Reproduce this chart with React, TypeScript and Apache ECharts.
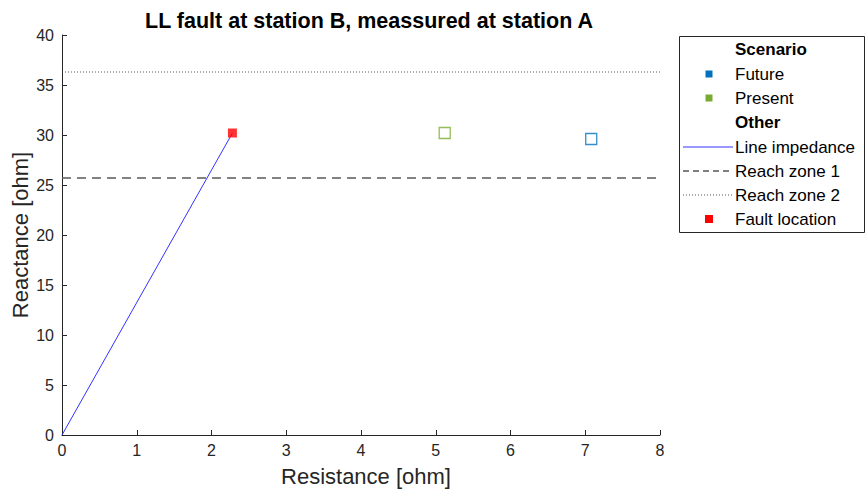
import React, { useEffect, useRef } from "react";
import * as echarts from "echarts";

// Impedance plane values (ohm)
const lineImpedance: [number, number][] = [
  [0, 0],
  [2.28, 30.2],
];
const faultLocation: [number, number][] = [[2.28, 30.2]];
const presentPoint: [number, number][] = [[5.12, 30.2]];
const futurePoint: [number, number][] = [[7.08, 29.6]];
const reachZone1 = 25.7;
const reachZone2 = 36.3;
const xRange = [0, 8];
const yRange = [0, 40];

const FONT = "Liberation Sans, Arial, Helvetica, sans-serif";
const AXIS = "#262626";
const BLUE = "#0072BD";
const GREEN = "#77AC30";

export default function App() {
  const ref = useRef<HTMLDivElement>(null);

  useEffect(() => {
    document.body.style.margin = "0";
    if (!ref.current) return;
    const chart = echarts.init(ref.current, undefined, { renderer: "svg" });

    const legendX = 679;
    const legendY = 36;
    const symX = 709;
    const textX = 735;
    const rows = [49, 74, 98, 122, 147, 171, 195, 219];

    const legendText = (label: string, y: number, bold = false) => ({
      type: "text",
      x: textX,
      y,
      style: {
        text: label,
        font: `${bold ? "bold " : ""}17px ${FONT}`,
        fill: "#000",
        textVerticalAlign: "middle",
      },
    });
    const legendSquare = (y: number, color: string, size = 7) => ({
      type: "rect",
      shape: { x: symX - size / 2, y: y - size / 2, width: size, height: size },
      style: { fill: color },
    });
    const legendLine = (y: number, color: string, dash: any, width = 1) => ({
      type: "line",
      shape: { x1: 683, y1: y, x2: 733, y2: y },
      style: { stroke: color, lineWidth: width, lineDash: dash },
    });

    chart.setOption({
      animation: false,
      backgroundColor: "#fff",
      title: {
        text: "LL fault at station B, meassured at station A",
        left: 364,
        top: 5,
        textAlign: "center",
        textStyle: { fontFamily: FONT, fontSize: 21.5, fontWeight: "bold", color: "#000" },
      },
      grid: { left: 62, right: 208, top: 35, bottom: 59, outerBoundsMode: "none", containLabel: false },
      xAxis: {
        type: "value",
        min: xRange[0],
        max: xRange[1],
        interval: 1,
        name: "Resistance [ohm]",
        nameLocation: "middle",
        nameGap: 30,
        nameMoveOverlap: false,
        nameTextStyle: { fontFamily: FONT, fontSize: 22, color: AXIS, padding: [0, 0, 0, 10] },
        axisLine: { show: true, lineStyle: { color: AXIS, width: 1 } },
        axisTick: { show: true, inside: true, length: 5, lineStyle: { color: AXIS } },
        axisLabel: { fontFamily: FONT, fontSize: 16, color: AXIS, margin: 7 },
        splitLine: { show: false },
      },
      yAxis: {
        type: "value",
        min: yRange[0],
        max: yRange[1],
        interval: 5,
        name: "Reactance [ohm]",
        nameLocation: "middle",
        nameGap: 31,
        nameMoveOverlap: false,
        nameTextStyle: { fontFamily: FONT, fontSize: 22, color: AXIS },
        axisLine: { show: true, lineStyle: { color: AXIS, width: 1 } },
        axisTick: { show: true, inside: true, length: 5, lineStyle: { color: AXIS } },
        axisLabel: { fontFamily: FONT, fontSize: 16, color: AXIS, margin: 8 },
        splitLine: { show: false },
      },
      series: [
        {
          name: "Reach zone 1",
          type: "line",
          data: [
            [xRange[0], reachZone1],
            [xRange[1], reachZone1],
          ],
          symbol: "none",
          lineStyle: { color: "#5a5a5a", width: 1.5, type: [9, 6] },
          z: 1,
        },
        {
          name: "Reach zone 2",
          type: "line",
          data: [
            [xRange[0], reachZone2],
            [xRange[1], reachZone2],
          ],
          symbol: "none",
          lineStyle: { color: "#555555", width: 1, type: [1, 2] },
          z: 1,
        },
        {
          name: "Line impedance",
          type: "line",
          data: lineImpedance,
          symbol: "none",
          lineStyle: { color: "#3333ff", width: 1 },
          z: 2,
        },
        {
          name: "Fault location",
          type: "scatter",
          data: faultLocation,
          symbol: "rect",
          symbolSize: 9,
          itemStyle: { color: "#ff0000" },
          z: 3,
        },
        {
          name: "Present",
          type: "scatter",
          data: presentPoint,
          symbol: "rect",
          symbolSize: 11,
          itemStyle: { color: "none", borderColor: GREEN, borderWidth: 1.3 },
          z: 3,
        },
        {
          name: "Future",
          type: "scatter",
          data: futurePoint,
          symbol: "rect",
          symbolSize: 11,
          itemStyle: { color: "none", borderColor: BLUE, borderWidth: 1.3 },
          z: 3,
        },
      ],
      graphic: [
        {
          type: "rect",
          shape: { x: legendX + 0.5, y: legendY + 0.5, width: 185, height: 196 },
          style: { fill: "#fff", stroke: "#262626", lineWidth: 1 },
        },
        legendText("Scenario", rows[0], true),
        legendSquare(rows[1], BLUE),
        legendText("Future", rows[1]),
        legendSquare(rows[2], GREEN),
        legendText("Present", rows[2]),
        legendText("Other", rows[3], true),
        legendLine(rows[4], "#3333ff", null),
        legendText("Line impedance", rows[4]),
        legendLine(rows[5], "#000", [6, 4], 1),
        legendText("Reach zone 1", rows[5]),
        legendLine(rows[6], "#555", [1, 2], 1),
        legendText("Reach zone 2", rows[6]),
        legendSquare(rows[7], "#ff0000", 8),
        legendText("Fault location", rows[7]),
      ],
    });

    return () => chart.dispose();
  }, []);

  return <div ref={ref} style={{ width: 868, height: 494 }} />;
}
